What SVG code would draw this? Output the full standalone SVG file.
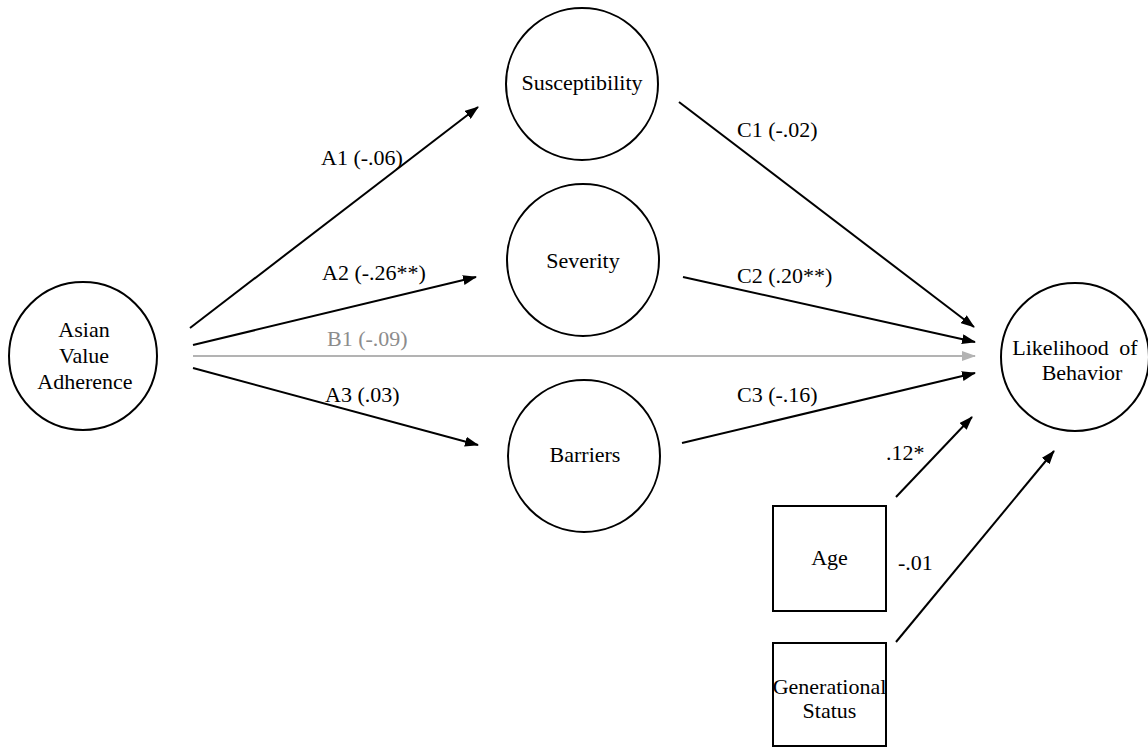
<svg xmlns="http://www.w3.org/2000/svg" width="1148" height="749" viewBox="0 0 1148 749">
  <style>
    .node { fill: #ffffff; stroke: #000000; stroke-width: 2; }
    .label { font-family: "Liberation Serif", "Times New Roman", serif; font-size: 22px; fill: #000000; }
    .mid { text-anchor: middle; }
    .edge { stroke: #000000; stroke-width: 2; fill: none; marker-end: url(#head); }
    .edge-grey { stroke: #b3b3b3; stroke-width: 2; fill: none; marker-end: url(#head-grey); }
    .grey { fill: #8c8c8c; }
  </style>
  <defs>
    <marker id="head" markerUnits="userSpaceOnUse" markerWidth="14" markerHeight="10" refX="13" refY="5" orient="auto">
      <path d="M0,0 L14,5 L0,10 z" fill="#000000"/>
    </marker>
    <marker id="head-grey" markerUnits="userSpaceOnUse" markerWidth="14" markerHeight="10" refX="13" refY="5" orient="auto">
      <path d="M0,0 L14,5 L0,10 z" fill="#b3b3b3"/>
    </marker>
  </defs>

  <rect width="1148" height="749" fill="#ffffff"/>

  <!-- paths between constructs -->
  <g id="connectors">
    <line class="edge" x1="190" y1="328" x2="478" y2="107"/>
    <line class="edge" x1="193" y1="345" x2="476" y2="277"/>
    <line class="edge-grey" x1="193" y1="356" x2="975" y2="356"/>
    <line class="edge" x1="193" y1="368" x2="478" y2="445"/>
    <line class="edge" x1="679" y1="102" x2="974" y2="327"/>
    <line class="edge" x1="683" y1="277" x2="975" y2="342"/>
    <line class="edge" x1="682" y1="443" x2="975" y2="373"/>
    <line class="edge" x1="896" y1="497" x2="972" y2="417"/>
    <line class="edge" x1="896" y1="642" x2="1054" y2="451"/>

    <text class="label" x="321" y="165">A1 (-.06)</text>
    <text class="label" x="322" y="280">A2 (-.26**)</text>
    <text class="label grey" x="327" y="346">B1 (-.09)</text>
    <text class="label" x="325" y="402">A3 (.03)</text>
    <text class="label" x="737" y="137">C1 (-.02)</text>
    <text class="label" x="737" y="283">C2 (.20**)</text>
    <text class="label" x="737" y="402">C3 (-.16)</text>
    <text class="label" x="886" y="460">.12*</text>
    <text class="label" x="898" y="570">-.01</text>
  </g>

  <g id="asian-value-adherence">
    <circle class="node" cx="83" cy="356" r="74"/>
    <text class="label mid" x="84" y="337">Asian</text>
    <text class="label mid" x="84" y="363">Value</text>
    <text class="label mid" x="85" y="389">Adherence</text>
  </g>

  <g id="susceptibility">
    <circle class="node" cx="582" cy="84" r="76"/>
    <text class="label mid" x="582" y="90">Susceptibility</text>
  </g>

  <g id="severity">
    <circle class="node" cx="583" cy="260" r="76"/>
    <text class="label mid" x="583" y="268">Severity</text>
  </g>

  <g id="barriers">
    <circle class="node" cx="584" cy="456" r="76"/>
    <text class="label mid" x="585" y="462">Barriers</text>
  </g>

  <g id="likelihood-of-behavior">
    <circle class="node" cx="1075" cy="357" r="74"/>
    <text class="label mid" x="1075" y="355" word-spacing="5">Likelihood of</text>
    <text class="label mid" x="1082" y="380">Behavior</text>
  </g>

  <g id="age">
    <rect class="node" x="773" y="506" width="113" height="105"/>
    <text class="label mid" x="829.5" y="565">Age</text>
  </g>

  <g id="generational-status">
    <rect class="node" x="773" y="643" width="113" height="103"/>
    <text class="label mid" x="829.5" y="694">Generational</text>
    <text class="label mid" x="829.5" y="718">Status</text>
  </g>
</svg>
